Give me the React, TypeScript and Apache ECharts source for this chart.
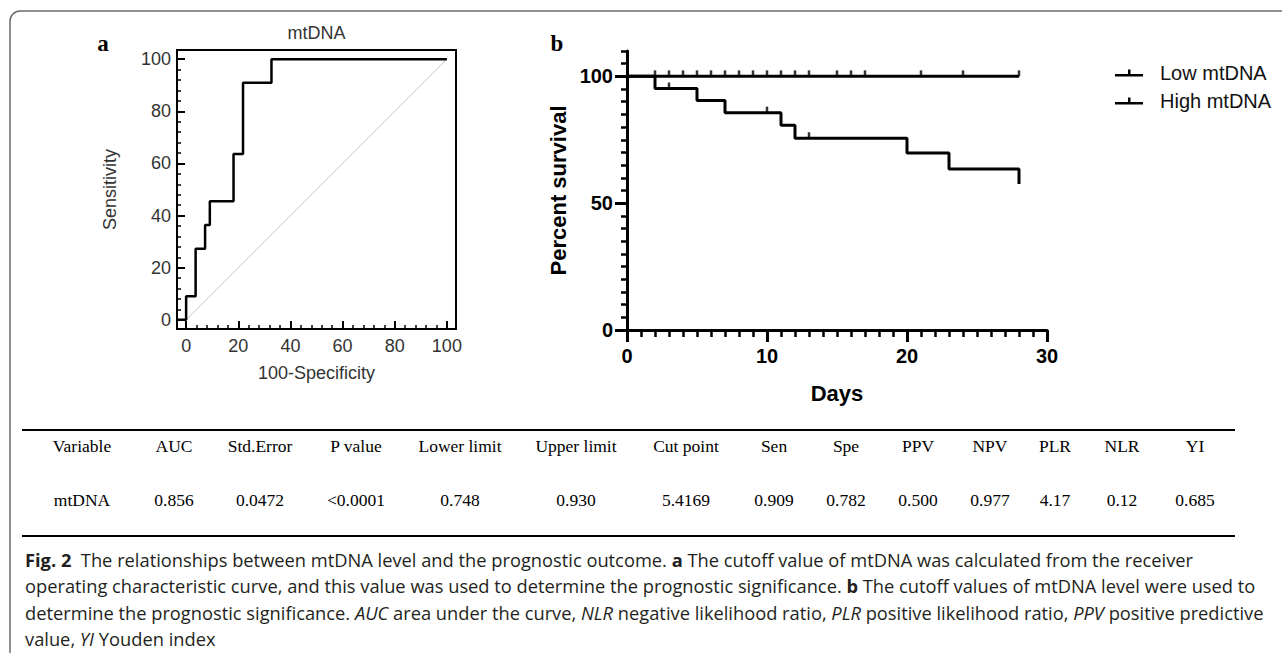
import React, { useEffect, useRef } from "react";
import * as echarts from "echarts";

// ---------- data ----------
// ROC curve (panel a)
const rocFpr = [-3.5, 0, 0, 3.64, 7.27, 9.09, 18.18, 21.82, 32.73, 100];
const rocSens = [0, 0, 9.09, 27.27, 36.36, 45.45, 63.64, 90.91, 100, 100];
const rocRefX = [0, 100];
const rocRefY = [0, 100];
const rocTicks = [0, 20, 40, 60, 80, 100];
const rocMinorTicks = [4, 8, 12, 16, 24, 28, 32, 36, 44, 48, 52, 56, 64, 68, 72, 76, 84, 88, 92, 96];

// Kaplan-Meier (panel b)
const lowDays = [0, 28];
const lowSurv = [100, 100];
const highDays = [0, 2, 5, 7, 11, 12, 20, 23, 28];
const highSurv = [100, 95.2, 90.5, 85.7, 80.7, 75.6, 69.8, 63.5, 57.6];
const lowCensorDays = [2, 3, 4, 5, 6, 7, 8, 9, 10, 11, 12, 13, 15, 16, 17, 21, 24, 28];
const highCensorDays = [3, 10, 13];
const highCensorSurv = [95.2, 85.7, 75.6];
const kmYTicks = [0, 50, 100];
const kmYMinorTicks = [5, 10, 15, 20, 25, 30, 35, 40, 45, 55, 60, 65, 70, 75, 80, 85, 90, 95, 105, 110];
const seriesNames = ["Low mtDNA", "High mtDNA"];

// Table
const tableHeaders = ["Variable", "AUC", "Std.Error", "P value", "Lower limit", "Upper limit", "Cut point", "Sen", "Spe", "PPV", "NPV", "PLR", "NLR", "YI"];
const tableRow = ["mtDNA", "0.856", "0.0472", "<0.0001", "0.748", "0.930", "5.4169", "0.909", "0.782", "0.500", "0.977", "4.17", "0.12", "0.685"];

// Caption
const captionLines = [
  "{b|Fig. 2}  The relationships between mtDNA level and the prognostic outcome. {b|a} The cutoff value of mtDNA was calculated from the receiver",
  "operating characteristic curve, and this value was used to determine the prognostic significance. {b|b} The cutoff values of mtDNA level were used to",
  "determine the prognostic significance. {i|AUC} area under the curve, {i|NLR} negative likelihood ratio, {i|PLR} positive likelihood ratio, {i|PPV} positive predictive",
  "value, {i|YI} Youden index",
];

// ---------- layout ----------
const colX = [82, 174, 260, 356, 460, 576, 686, 774, 846, 918, 990, 1055, 1122, 1195];
const captionY = [559, 585, 612, 638];
const SANS = 'Arial, "Liberation Sans", Helvetica, sans-serif';
const SERIF = '"Times New Roman", "Liberation Serif", serif';
const CAP = '"Open Sans", "Noto Sans", sans-serif';
const CAP_SIZE = 18.3;
const TABLE_FONT = '17.5px ' + SERIF;

function zip(a: number[], b: number[]) {
  return a.map((v, i) => [v, b[i]]);
}

function buildOption(): any {
  const capFont = { fontFamily: CAP, fontSize: CAP_SIZE, fill: "#231f20" };
  const graphic: any[] = [
    {
      type: "rect",
      shape: { x: 10, y: 11, width: 1400, height: 800, r: 10 },
      style: { fill: "none", stroke: "#6b6b6b", lineWidth: 1.5 },
      silent: true,
    },
    { type: "text", style: { text: "a", x: 103, y: 43, textAlign: "center", textVerticalAlign: "middle", font: 'bold 23px ' + SERIF, fill: "#000" } },
    { type: "text", style: { text: "b", x: 557, y: 43, textAlign: "center", textVerticalAlign: "middle", font: 'bold 23px ' + SERIF, fill: "#000" } },
    { type: "text", style: { text: "mtDNA", x: 316.5, y: 33, textAlign: "center", textVerticalAlign: "middle", font: '18px ' + SANS, fill: "#333" } },
    { type: "line", shape: { x1: 22, y1: 430, x2: 1235, y2: 430 }, style: { stroke: "#000", lineWidth: 2 } },
    { type: "line", shape: { x1: 22, y1: 536, x2: 1235, y2: 536 }, style: { stroke: "#000", lineWidth: 2 } },
  ];
  tableHeaders.forEach((h, i) => {
    graphic.push({ type: "text", style: { text: h, x: colX[i], y: 446, textAlign: "center", textVerticalAlign: "middle", font: TABLE_FONT, fill: "#000" } });
  });
  tableRow.forEach((h, i) => {
    graphic.push({ type: "text", style: { text: h, x: colX[i], y: 500, textAlign: "center", textVerticalAlign: "middle", font: TABLE_FONT, fill: "#000" } });
  });
  captionLines.forEach((t, i) => {
    graphic.push({
      type: "text",
      style: {
        text: t,
        x: 25,
        y: captionY[i],
        textAlign: "left",
        textVerticalAlign: "middle",
        ...capFont,
        rich: {
          b: { fontFamily: CAP, fontSize: CAP_SIZE, fontWeight: "bold", fill: "#231f20" },
          i: { fontFamily: CAP, fontSize: CAP_SIZE, fontStyle: "italic", fill: "#231f20" },
        },
      },
    });
  });

  const rocAxisBase = {
    type: "value",
    gridIndex: 0,
    min: -3.5,
    max: 103.5,
    splitLine: { show: false },
  };
  const kmName = { fontSize: 22, fontWeight: "bold", color: "#000", fontFamily: SANS };

  return {
    animation: false,
    backgroundColor: "#fff",
    textStyle: { fontFamily: SANS },
    graphic,
    legend: {
      data: seriesNames,
      orient: "vertical",
      left: 1110,
      top: 58,
      itemWidth: 28,
      itemHeight: 7,
      itemGap: 8,
      selectedMode: false,
      icon: "path://M0,4.5h28v2.5h-28z M13,0h2.5v4.5h-2.5z",
      textStyle: { fontSize: 20, color: "#111", fontFamily: SANS, padding: [0, 0, 0, 12] },
    },
    grid: [
      { left: 177, top: 50, width: 279, height: 279, show: true, borderColor: "#000", borderWidth: 2, backgroundColor: "transparent" },
      { left: 627, top: 51, width: 420, height: 279 },
    ],
    xAxis: [
      {
        ...rocAxisBase,
        position: "bottom",
        axisLine: { show: true, onZero: false, lineStyle: { color: "#000", width: 2 } },
        axisTick: { show: true, inside: true, length: 8, customValues: rocTicks, lineStyle: { color: "#000", width: 2 } },
        axisLabel: { customValues: rocTicks, fontSize: 18, color: "#333", fontFamily: SANS, margin: 8 },
        name: "100-Specificity",
        nameLocation: "middle",
        nameGap: 35,
        nameTextStyle: { fontSize: 18, color: "#333", fontFamily: SANS },
      },
      {
        ...rocAxisBase,
        position: "bottom",
        axisLine: { show: false, onZero: false },
        axisTick: { show: true, inside: true, length: 4, customValues: rocMinorTicks, lineStyle: { color: "#000", width: 1.5 } },
        axisLabel: { show: false },
      },
      {
        type: "value",
        gridIndex: 1,
        min: 0,
        max: 30,
        interval: 10,
        position: "bottom",
        splitLine: { show: false },
        axisLine: { show: true, onZero: false, lineStyle: { color: "#000", width: 3 } },
        axisTick: { show: true, length: 12, lineStyle: { color: "#000", width: 3 } },
        minorTick: { show: true, splitNumber: 10, length: 7, lineStyle: { color: "#000", width: 2.5 } },
        minorSplitLine: { show: false },
        axisLabel: { fontSize: 20, fontWeight: "bold", color: "#000", fontFamily: SANS, margin: 16 },
        name: "Days",
        nameLocation: "middle",
        nameGap: 52,
        nameTextStyle: kmName,
      },
    ],
    yAxis: [
      {
        ...rocAxisBase,
        position: "left",
        axisLine: { show: true, onZero: false, lineStyle: { color: "#000", width: 2 } },
        axisTick: { show: true, inside: true, length: 8, customValues: rocTicks, lineStyle: { color: "#000", width: 2 } },
        axisLabel: { customValues: rocTicks, fontSize: 18, color: "#333", fontFamily: SANS, margin: 6 },
        name: "Sensitivity",
        nameLocation: "middle",
        nameGap: 58,
        nameTextStyle: { fontSize: 18, color: "#333", fontFamily: SANS },
      },
      {
        ...rocAxisBase,
        position: "left",
        axisLine: { show: false, onZero: false },
        axisTick: { show: true, inside: true, length: 4, customValues: rocMinorTicks, lineStyle: { color: "#000", width: 1.5 } },
        axisLabel: { show: false },
      },
      {
        type: "value",
        gridIndex: 1,
        min: 0,
        max: 110,
        position: "left",
        splitLine: { show: false },
        axisLine: { show: true, onZero: false, lineStyle: { color: "#000", width: 3 } },
        axisTick: { show: true, length: 12, customValues: kmYTicks, lineStyle: { color: "#000", width: 3 } },
        axisLabel: { customValues: kmYTicks, fontSize: 20, fontWeight: "bold", color: "#000", fontFamily: SANS, margin: 14 },
        name: "Percent survival",
        nameLocation: "middle",
        nameGap: 58,
        nameTextStyle: kmName,
      },
      {
        type: "value",
        gridIndex: 1,
        min: 0,
        max: 110,
        position: "left",
        splitLine: { show: false },
        axisLine: { show: false, onZero: false },
        axisTick: { show: true, length: 6, customValues: kmYMinorTicks, lineStyle: { color: "#000", width: 2.5 } },
        axisLabel: { show: false },
      },
    ],
    series: [
      {
        type: "line",
        xAxisIndex: 0,
        yAxisIndex: 0,
        data: zip(rocRefX, rocRefY),
        symbol: "none",
        silent: true,
        lineStyle: { color: "#c8c8c8", width: 1 },
      },
      {
        type: "line",
        xAxisIndex: 0,
        yAxisIndex: 0,
        step: "end",
        data: zip(rocFpr, rocSens),
        symbol: "none",
        silent: true,
        lineStyle: { color: "#000", width: 2.5 },
      },
      {
        name: seriesNames[0],
        type: "line",
        xAxisIndex: 2,
        yAxisIndex: 2,
        step: "end",
        data: zip(lowDays, lowSurv),
        symbol: "none",
        color: "#000",
        lineStyle: { color: "#000", width: 3 },
      },
      {
        name: seriesNames[1],
        type: "line",
        xAxisIndex: 2,
        yAxisIndex: 2,
        step: "end",
        data: zip(highDays, highSurv),
        symbol: "none",
        color: "#000",
        lineStyle: { color: "#000", width: 3 },
      },
      {
        name: "Low censored",
        type: "scatter",
        xAxisIndex: 2,
        yAxisIndex: 2,
        data: lowCensorDays.map((d) => [d, lowSurv[0]]),
        symbol: "rect",
        symbolSize: [2.5, 6],
        symbolOffset: [0, -3],
        itemStyle: { color: "#000" },
        silent: true,
      },
      {
        name: "High censored",
        type: "scatter",
        xAxisIndex: 2,
        yAxisIndex: 2,
        data: zip(highCensorDays, highCensorSurv),
        symbol: "rect",
        symbolSize: [2.5, 6],
        symbolOffset: [0, -3],
        itemStyle: { color: "#000" },
        silent: true,
      },
    ],
  };
}

export default function App() {
  const ref = useRef<HTMLDivElement>(null);
  useEffect(() => {
    if (!ref.current) return;
    const chart = echarts.init(ref.current, null, { renderer: "svg" });
    chart.setOption(buildOption());
    return () => chart.dispose();
  }, []);
  return (
    <div
      ref={ref}
      style={{ position: "fixed", left: 0, top: 0, width: 1282, height: 653, background: "#fff" }}
    />
  );
}
